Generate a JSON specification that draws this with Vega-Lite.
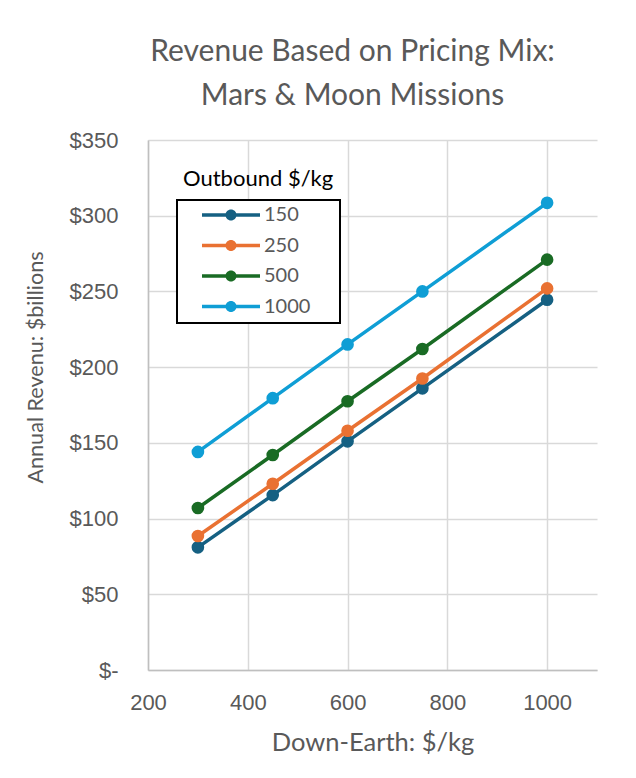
{
  "$schema": "https://vega.github.io/schema/vega-lite/v6.json",
  "width": 449,
  "height": 530,
  "autosize": "none",
  "padding": {"left": 148, "top": 140, "right": 39, "bottom": 108},
  "background": "white",
  "title": {
    "text": ["Revenue Based on Pricing Mix:", "Mars & Moon Missions"],
    "font": "Lato",
    "fontSize": 30,
    "fontWeight": "normal",
    "color": "#595959",
    "anchor": "middle",
    "dx": -20,
    "offset": 18,
    "lineHeight": 44
  },
  "data": {
    "values": [
      {"outbound": 150, "downEarth": 300, "revenue": 81},
      {"outbound": 150, "downEarth": 450, "revenue": 115.5},
      {"outbound": 150, "downEarth": 600, "revenue": 151},
      {"outbound": 150, "downEarth": 750, "revenue": 186},
      {"outbound": 150, "downEarth": 1000, "revenue": 244.5},
      {"outbound": 250, "downEarth": 300, "revenue": 88.5},
      {"outbound": 250, "downEarth": 450, "revenue": 123},
      {"outbound": 250, "downEarth": 600, "revenue": 158},
      {"outbound": 250, "downEarth": 750, "revenue": 192.5},
      {"outbound": 250, "downEarth": 1000, "revenue": 252},
      {"outbound": 500, "downEarth": 300, "revenue": 107},
      {"outbound": 500, "downEarth": 450, "revenue": 142},
      {"outbound": 500, "downEarth": 600, "revenue": 177.5},
      {"outbound": 500, "downEarth": 750, "revenue": 212},
      {"outbound": 500, "downEarth": 1000, "revenue": 271},
      {"outbound": 1000, "downEarth": 300, "revenue": 144},
      {"outbound": 1000, "downEarth": 450, "revenue": 179.5},
      {"outbound": 1000, "downEarth": 600, "revenue": 215},
      {"outbound": 1000, "downEarth": 750, "revenue": 250},
      {"outbound": 1000, "downEarth": 1000, "revenue": 308.5}
    ]
  },
  "mark": {"type": "line", "strokeWidth": 3.5, "point": {"size": 160, "filled": true, "opacity": 1}},
  "encoding": {
    "x": {
      "field": "downEarth",
      "type": "quantitative",
      "scale": {"domain": [200, 1100], "nice": false, "zero": false},
      "axis": {
        "values": [200, 400, 600, 800, 1000],
        "format": "d",
        "grid": true,
        "gridColor": "#d9d9d9",
        "gridWidth": 1.5,
        "domainColor": "#bfbfbf",
        "domainWidth": 1.5,
        "ticks": false,
        "tickSize": 0,
        "labelPadding": 22,
        "labelFlush": false,
        "labelFont": "Liberation Sans",
        "labelFontSize": 22,
        "labelColor": "#595959",
        "title": "Down-Earth: $/kg",
        "titleFont": "Lato",
        "titleFontSize": 25.5,
        "titleFontWeight": "normal",
        "titleColor": "#595959",
        "titlePadding": 17
      }
    },
    "y": {
      "field": "revenue",
      "type": "quantitative",
      "scale": {"domain": [0, 350], "nice": false},
      "axis": {
        "values": [0, 50, 100, 150, 200, 250, 300, 350],
        "labelExpr": "datum.value == 0 ? '$-\u00a0\u00a0\u00a0\u00a0' : '$' + datum.value",
        "grid": true,
        "gridColor": "#d9d9d9",
        "gridWidth": 1.5,
        "domainColor": "#bfbfbf",
        "domainWidth": 1.5,
        "ticks": false,
        "tickSize": 0,
        "labelPadding": 30,
        "labelFont": "Liberation Sans",
        "labelFontSize": 22,
        "labelColor": "#595959",
        "title": "Annual Revenu: $billions",
        "titleFont": "Lato",
        "titleFontSize": 21.6,
        "titleFontWeight": "normal",
        "titleColor": "#595959",
        "titleX": -101,
        "titleY": 227
      }
    },
    "color": {
      "field": "outbound",
      "type": "ordinal",
      "scale": {"domain": [150, 250, 500, 1000], "range": ["#156082", "#E97132", "#196B24", "#0F9ED5"]},
      "legend": {
        "orient": "none",
        "legendX": 29,
        "legendY": 60,
        "title": "Outbound $/kg",
        "titleFont": "Lato",
        "titleFontSize": 22,
        "titleFontWeight": "normal",
        "titleColor": "black",
        "titlePadding": -22,
        "padding": 6,
        "strokeColor": "black",
        "fillColor": "white",
        "labelFont": "Lato",
        "labelFontSize": 20,
        "labelColor": "#595959",
        "symbolType": "M-1,-0.06L1,-0.06L1,0.06L-1,0.06Z M-0.19,0 A0.19,0.19 0 1,1 0.19,0 A0.19,0.19 0 1,1 -0.19,0 Z",
        "symbolSize": 3364,
        "symbolStrokeWidth": 0,
        "clipHeight": 18,
        "rowPadding": 10.5,
        "symbolOffset": 19,
        "labelOffset": 4,
        "encode": {
          "legend": {"update": {"strokeWidth": {"value": 2}}},
          "title": {"update": {"dy": {"value": -37}}},
          "symbols": {"update": {"fill": {"scale": "color", "field": "value"}, "fillOpacity": {"value": 1}, "strokeWidth": {"value": 0}}}
        }
      }
    }
  },
  "config": {"view": {"stroke": null}}
}
